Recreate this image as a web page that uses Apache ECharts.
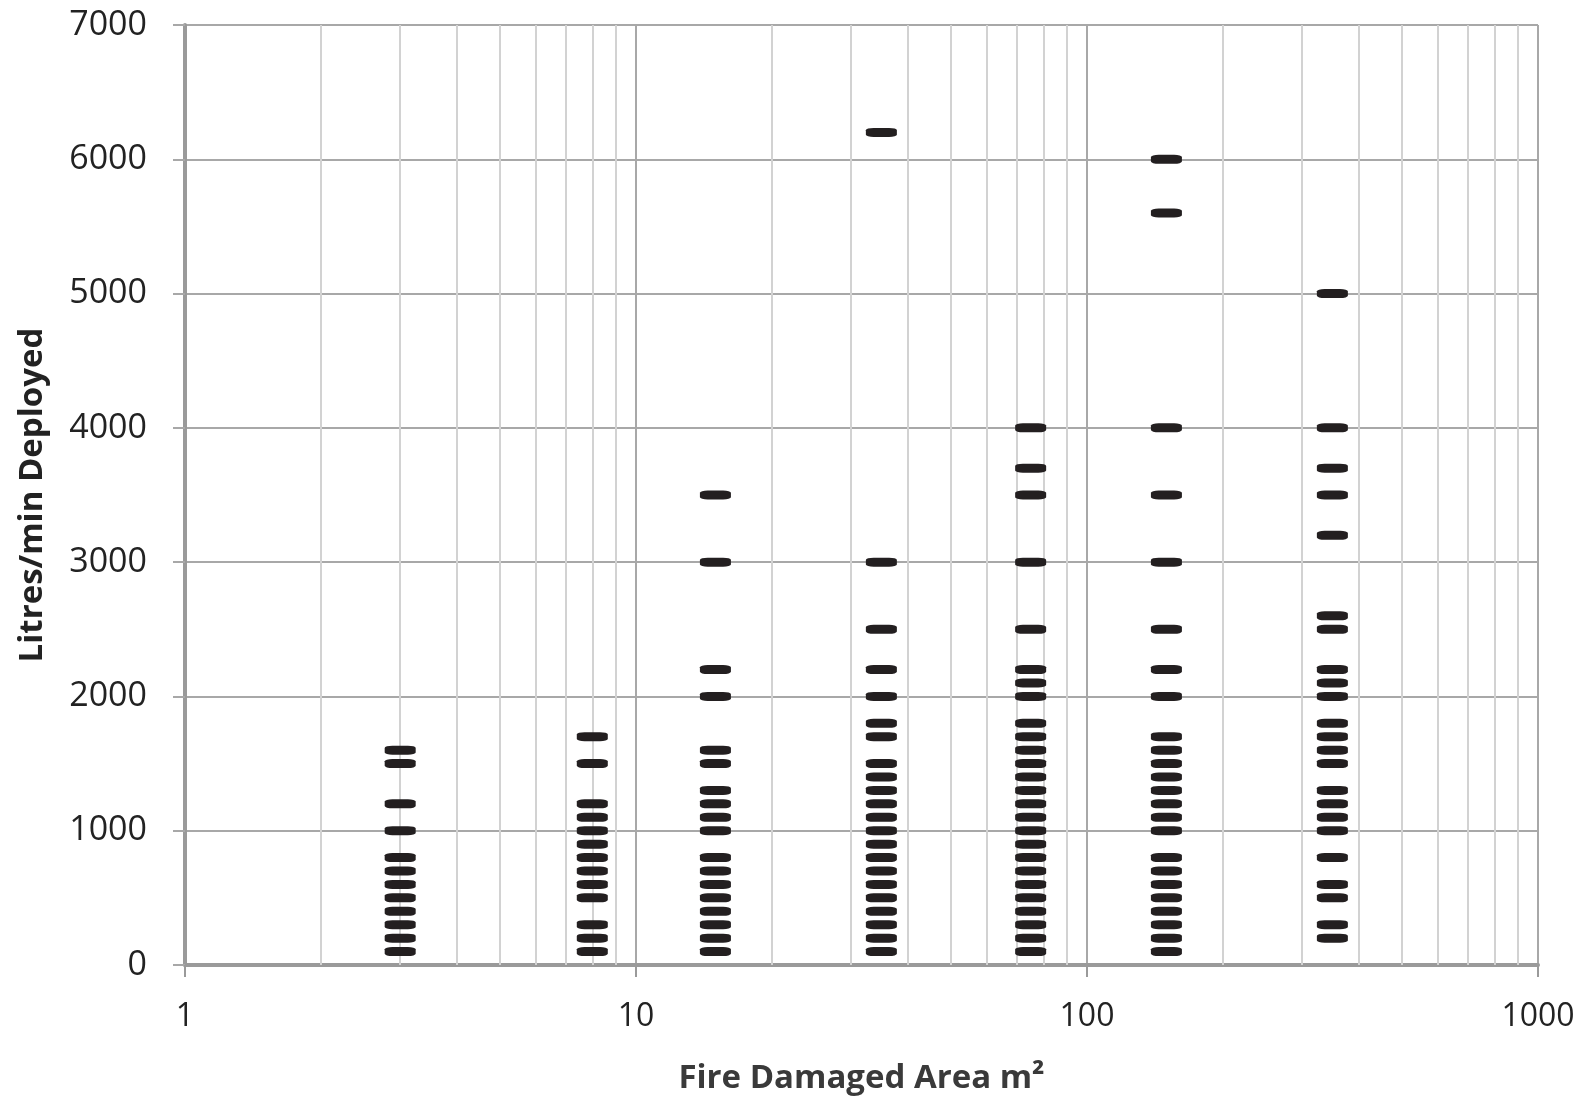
<!DOCTYPE html>
<html>
<head>
<meta charset="utf-8">
<title>Fire Damaged Area vs Litres/min Deployed</title>
<script src="https://cdn.jsdelivr.net/npm/echarts@6/dist/echarts.min.js"></script>
<style>
    html, body { margin: 0; padding: 0; background: #fff; }
    #chart { width: 1583px; height: 1098px; }
</style>
</head>
<body>
<div id="chart"></div>
<script>
// 火灾面积分组（m²）
const areas = [3, 8, 15, 35, 75, 150, 350];

// 每组的出水量（升/分钟）
const flow3 = [100, 200, 300, 400, 500, 600, 700, 800, 1000, 1200, 1500, 1600];
const flow8 = [100, 200, 300, 500, 600, 700, 800, 900, 1000, 1100, 1200, 1500, 1700];
const flow15 = [100, 200, 300, 400, 500, 600, 700, 800, 1000, 1100, 1200, 1300, 1500, 1600, 2000, 2200, 3000, 3500];
const flow35 = [100, 200, 300, 400, 500, 600, 700, 800, 900, 1000, 1100, 1200, 1300, 1400, 1500, 1700, 1800, 2000, 2200, 2500, 3000, 6200];
const flow75 = [100, 200, 300, 400, 500, 600, 700, 800, 900, 1000, 1100, 1200, 1300, 1400, 1500, 1600, 1700, 1800, 2000, 2100, 2200, 2500, 3000, 3500, 3700, 4000];
const flow150 = [100, 200, 300, 400, 500, 600, 700, 800, 1000, 1100, 1200, 1300, 1400, 1500, 1600, 1700, 2000, 2200, 2500, 3000, 3500, 4000, 5600, 6000];
const flow350 = [200, 300, 500, 600, 800, 1000, 1100, 1200, 1300, 1500, 1600, 1700, 1800, 2000, 2100, 2200, 2500, 2600, 3200, 3500, 3700, 4000, 5000];

const flows = [flow3, flow8, flow15, flow35, flow75, flow150, flow350];

// 对数轴次网格线位置
const minorLines = [2, 3, 4, 5, 6, 7, 8, 9, 20, 30, 40, 50, 60, 70, 80, 90, 200, 300, 400, 500, 600, 700, 800, 900];

window.addEventListener('DOMContentLoaded', function() {
    initChart();
});

function initChart() {
    const chart = echarts.init(document.getElementById('chart'));

    const points = [];
    areas.forEach((a, i) => {
        flows[i].forEach(v => points.push([a, v]));
    });

    const axisFont = 'Open Sans, DejaVu Sans, sans-serif';

    const option = {
        animation: false,
        backgroundColor: '#fff',
        grid: {
            left: 185,
            right: 45,
            top: 25,
            bottom: 133,
            outerBoundsMode: 'none'
        },
        xAxis: {
            type: 'log',
            logBase: 10,
            min: 1,
            max: 1000,
            name: 'Fire Damaged Area m²',
            nameLocation: 'middle',
            nameGap: 97,
            nameTextStyle: {
                fontFamily: axisFont,
                fontSize: 33,
                fontWeight: 'bold',
                color: '#3a3a3a'
            },
            axisLine: {
                onZero: false,
                lineStyle: { color: '#9a9a9a', width: 4 }
            },
            axisTick: {
                show: true,
                length: 12,
                lineStyle: { color: '#9a9a9a', width: 2 }
            },
            axisLabel: {
                margin: 36,
                fontFamily: axisFont,
                fontSize: 32,
                color: '#222',
                formatter: v => String(v)
            },
            splitLine: {
                show: true,
                lineStyle: { color: '#a8a8a8', width: 2 }
            }
        },
        yAxis: {
            type: 'value',
            min: 0,
            max: 7000,
            interval: 1000,
            name: 'Litres/min Deployed',
            nameLocation: 'middle',
            nameGap: 136,
            nameTextStyle: {
                fontFamily: axisFont,
                fontSize: 33,
                fontWeight: 'bold',
                color: '#222'
            },
            axisLine: {
                show: true,
                lineStyle: { color: '#9a9a9a', width: 4 }
            },
            axisTick: {
                show: true,
                length: 12,
                lineStyle: { color: '#a8a8a8', width: 2 }
            },
            axisLabel: {
                margin: 38,
                fontFamily: axisFont,
                fontSize: 34,
                color: '#222',
                formatter: v => String(v)
            },
            splitLine: {
                show: true,
                lineStyle: { color: '#a8a8a8', width: 2 }
            }
        },
        series: [
            {
                // 次网格线（放在散点下面）
                type: 'scatter',
                data: [],
                z: 1,
                silent: true,
                markLine: {
                    z: 1,
                    silent: true,
                    symbol: 'none',
                    label: { show: false },
                    lineStyle: { color: '#d2d2d2', width: 2, type: 'solid' },
                    data: minorLines.map(v => ({ xAxis: v }))
                }
            },
            {
                name: 'Litres/min',
                type: 'scatter',
                z: 3,
                symbol: 'roundRect',
                symbolSize: [31, 9],
                itemStyle: { color: '#231f20', opacity: 1 },
                data: points
            }
        ]
    };
    chart.setOption(option);
}
</script>
</body>
</html>
